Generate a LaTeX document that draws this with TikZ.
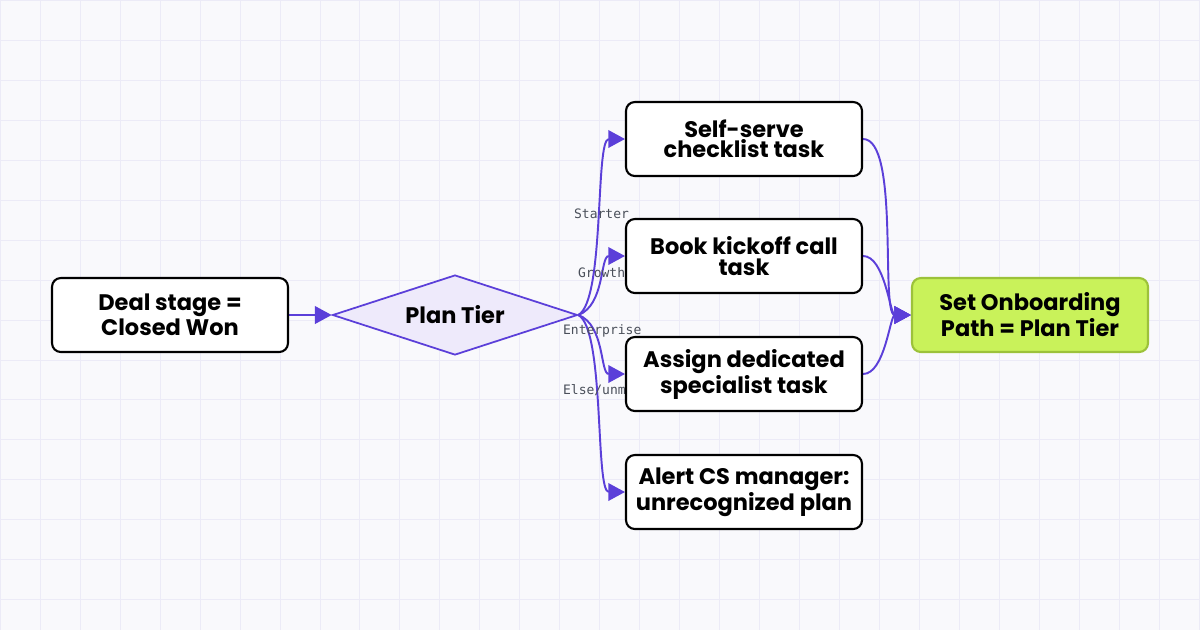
\documentclass[tikz,border=0pt]{standalone}
\usepackage{fontspec}
\setmainfont{Poppins}
\newfontfamily\labelfont{DejaVu Sans Mono}
\usetikzlibrary{shapes.geometric,arrows.meta,backgrounds}
\definecolor{flow}{HTML}{5B3FD9}
\definecolor{gridc}{HTML}{ECEBF7}
\definecolor{paper}{HTML}{F9F9FC}
\definecolor{tierfill}{HTML}{EEEAFB}
\definecolor{donefill}{HTML}{C9F25A}
\definecolor{donedraw}{HTML}{9CC23A}
\definecolor{lbl}{HTML}{4A4F5A}

\begin{document}
\begin{tikzpicture}[x=0.02cm,y=-0.02cm,
		step node/.style = {draw,rounded corners=5pt,line width=1.2pt,fill=white,
			minimum width=4.72cm,minimum height=1.48cm,align=center,
			font=\bfseries\fontsize{12.8}{11.5}\selectfont},
		edge/.style = {draw=flow,line width=1.1pt,-{Triangle[length=9.5pt,width=10pt]}},
		tag/.style = {font=\labelfont\fontsize{7.4}{7}\selectfont,text=lbl,inner sep=1pt}]
			\useasboundingbox (0,0) rectangle (1200,630);
			\node[step node] at (170,315) (deal) {Deal stage =\\Closed Won};
			\node[diamond,draw=flow,fill=tierfill,line width=1pt,aspect=3.06,inner sep=0pt,
				minimum width=4.9cm,minimum height=1.6cm,
				font=\bfseries\fontsize{12.8}{11.5}\selectfont] at (455,315) (tier) {Plan Tier};
			\node[step node] at (744,139) (self) {Self-serve\\checklist task};
			\node[step node] at (744,256) (kick) {Book kickoff call\\task};
			\node[step node] at (744,374) (spec) {Assign dedicated\\specialist task};
			\node[step node] at (744,492) (alert) {Alert CS manager:\\unrecognized plan};
			\node[step node,fill=donefill,draw=donedraw] at (1030,315) (path) {Set Onboarding\\Path = Plan Tier};
			\begin{scope}[on background layer]
			\fill[paper] (0,0) rectangle (1200,630);
			\draw[gridc,line width=0.5pt,step=0.8cm] (0,0) grid (1200,630);
			\path[edge] (deal) -- (tier);
			\path[edge] (tier.east) .. controls (605,300) and (595,139) .. (self.west);
			\path[edge] (tier.east) .. controls (605,305) and (600,256) .. (kick.west);
			\path[edge] (tier.east) .. controls (605,325) and (600,374) .. (spec.west);
			\path[edge] (tier.east) .. controls (605,330) and (595,492) .. (alert.west);
			\node[tag,anchor=west] at (572,214) (lstarter) {Starter};
			\node[tag,anchor=west] at (576,273) (lgrowth) {Growth};
			\node[tag,anchor=west] at (561,331) (lenter) {Enterprise};
			\node[tag,anchor=west] at (561,390) (lelse) {Else/unmatched};
			\path[edge] (self.east) .. controls (900,139) and (880,315) .. (path.west);
			\path[edge] (kick.east) .. controls (885,256) and (890,315) .. (path.west);
			\path[edge] (spec.east) .. controls (885,374) and (890,315) .. (path.west);
			\end{scope}
		\end{tikzpicture}
\end{document}
